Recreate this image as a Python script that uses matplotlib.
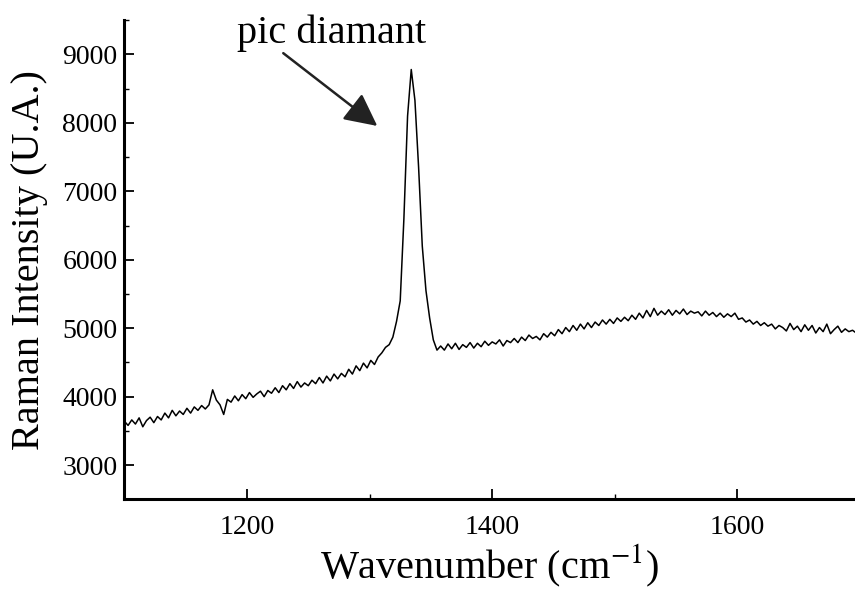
import numpy as np
import matplotlib
matplotlib.use('Agg')
import matplotlib.pyplot as plt
from matplotlib.ticker import MultipleLocator

plt.rcParams['font.family'] = ['Liberation Serif', 'DejaVu Serif']
plt.rcParams['mathtext.fontset'] = 'stix'

# Raman spectrum (step 3 cm-1)
wavenumber = np.arange(1100, 1698, 3)
intensity = [
    3640, 3580, 3660, 3600, 3690, 3560, 3650, 3700, 3620, 3710,
    3660, 3760, 3690, 3800, 3720, 3790, 3740, 3830, 3760, 3850,
    3800, 3870, 3820, 3880, 4100, 3950, 3880, 3740, 3960, 3920,
    4010, 3940, 4030, 3970, 4060, 3990, 4040, 4080, 4000, 4090,
    4050, 4130, 4060, 4160, 4100, 4190, 4120, 4220, 4140, 4200,
    4160, 4240, 4190, 4280, 4200, 4300, 4230, 4330, 4260, 4340,
    4290, 4400, 4330, 4450, 4380, 4490, 4420, 4530, 4470, 4580,
    # diamond peak
    4640, 4720, 4760, 4870, 5100, 5400, 6600, 8100, 8780, 8330,
    7350, 6200, 5550, 5150, 4830, 4680,
    4740, 4680, 4770, 4700, 4780, 4690, 4760, 4720, 4790, 4710,
    4780, 4730, 4810, 4750, 4800, 4770, 4830, 4740, 4820, 4790,
    4850, 4790, 4870, 4820, 4900, 4850, 4880, 4830, 4920, 4870,
    4940, 4890, 4980, 4920, 5010, 4950, 5040, 4970, 5060, 4990,
    5080, 5010, 5090, 5040, 5120, 5060, 5130, 5070, 5150, 5100,
    5160, 5110, 5190, 5130, 5220, 5150, 5260, 5170, 5290, 5190,
    5250, 5200, 5270, 5190, 5260, 5210, 5280, 5200, 5250, 5220,
    5240, 5180, 5250, 5190, 5230, 5170, 5220, 5160, 5210, 5170,
    5220, 5130, 5150, 5090, 5120, 5060, 5100, 5040, 5080, 5030,
    5060, 4990, 5040, 5010, 4960, 5070, 4980, 5030, 4950, 5050,
    4970, 5040, 4930, 5010, 4950, 5060, 4920, 4980, 5030, 4940,
    4990, 4950, 4970, 4930,
]

fig = plt.figure(figsize=(8.55, 5.9), dpi=100)
ax = fig.add_axes([0.1455, 0.1537, 0.8545, 0.812])

ax.plot(wavenumber, intensity, color='black', lw=1.1)

ax.set_xlim(1100, 1696)
ax.set_ylim(2500, 9500)
ax.xaxis.set_major_locator(MultipleLocator(200))
ax.xaxis.set_minor_locator(MultipleLocator(100))
ax.yaxis.set_major_locator(MultipleLocator(1000))
ax.yaxis.set_minor_locator(MultipleLocator(500))
ax.set_yticks([3000, 4000, 5000, 6000, 7000, 8000, 9000])

for s in ['top', 'right']:
    ax.spines[s].set_visible(False)
for s in ['left', 'bottom']:
    ax.spines[s].set_linewidth(2.2)

ax.tick_params(which='major', direction='in', length=7, width=1.3, labelsize=20, pad=11)
ax.tick_params(which='minor', direction='in', length=3.5, width=1.0)
ax.tick_params(axis='y', which='major', pad=5)

ax.set_xlabel('Wavenumber (cm$^{\\mathrm{-1}}$)', fontsize=29, labelpad=2)
ax.set_ylabel('Raman Intensity (U.A.)', fontsize=29, labelpad=10)

ax.text(1268.8, 9165, 'pic diamant', fontsize=29, ha='center', va='baseline')
ax.annotate('', xy=(1306.3, 7955), xytext=(1229.6, 9019),
            arrowprops=dict(arrowstyle='-|>,head_length=1.0,head_width=0.5',
                            mutation_scale=20, lw=1.8, color='#222222',
                            shrinkA=0, shrinkB=0))

fig.savefig('out.png', dpi=100)
